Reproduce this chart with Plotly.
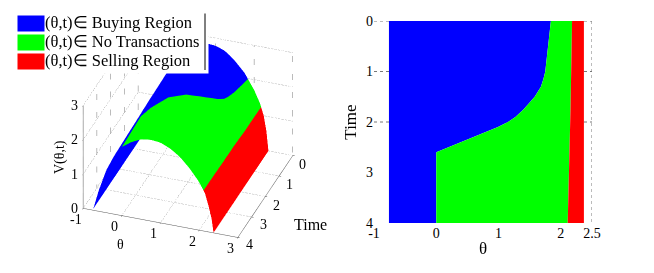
import numpy as np
import plotly.graph_objects as go

FONT = "Liberation Serif"
W, H = 646, 265  # the page adds an 8px body margin around the figure

# surface V(theta, t)
v_theta = [-0.75, -0.6, -0.4, -0.2, 0, 0.25, 0.5, 0.75, 1, 1.25, 1.5, 1.75, 2, 2.15, 2.25, 2.32, 2.37]
v_time = [0, 1, 2, 3, 4]
v_t0 = [0, 0.65, 1.35, 1.85, 2.2, 2.5, 2.7, 2.8, 2.78, 2.68, 2.45, 2.15, 1.7, 1.35, 1.0, 0.55, 0]
v_t1 = [0, 0.65, 1.33, 1.82, 2.16, 2.46, 2.67, 2.76, 2.74, 2.62, 2.4, 2.1, 1.66, 1.3, 0.95, 0.52, 0]
v_t2 = [0, 0.63, 1.3, 1.78, 2.1, 2.38, 2.57, 2.65, 2.62, 2.5, 2.28, 1.98, 1.57, 1.23, 0.88, 0.47, 0]
v_t3 = [0, 0.62, 1.27, 1.74, 2.05, 2.28, 2.44, 2.5, 2.47, 2.35, 2.15, 1.86, 1.48, 1.16, 0.8, 0.43, 0]
v_t4 = [0, 0.6, 1.25, 1.7, 2.0, 2.2, 2.33, 2.37, 2.34, 2.22, 2.03, 1.75, 1.4, 1.1, 0.72, 0.4, 0]

# region boundaries
bound_time = [0, 0.25, 0.5, 0.75, 1, 1.15, 1.3, 1.5, 1.65, 1.75, 1.9, 2, 2.1, 2.3, 2.5, 2.6, 3, 3.5, 4]
buy_edge = [1.84, 1.82, 1.8, 1.78, 1.75, 1.72, 1.68, 1.58, 1.48, 1.4, 1.27, 1.15, 0.99, 0.6, 0.22, 0, 0, 0, 0]
sell_edge = [2.18, 2.178, 2.175, 2.172, 2.17, 2.168, 2.165, 2.16, 2.157, 2.155, 2.152, 2.15, 2.15, 2.145, 2.14, 2.14,
             2.13, 2.12, 2.11]
left_edge = [-0.76] * len(bound_time)
right_edge = [2.37] * len(bound_time)

region_names = ["Buying Region", "No Transactions", "Selling Region"]
region_colors = ["#0000ff", "#00ff00", "#ff0000"]

grid_theta = [-1, 0, 1, 2, 3]
grid_time = [0, 1, 2, 3, 4]
grid_v = [0, 1, 2, 3]


def px_x(p):
    return (p - 8) / W


def px_y(p):
    return 1 - (p - 8) / H


def v_at(theta, t):
    table = np.array([v_t0, v_t1, v_t2, v_t3, v_t4])
    row = [np.interp(t, v_time, table[:, i]) for i in range(len(v_theta))]
    return np.interp(theta, v_theta, row)


def region_surface(lo, hi, color):
    xs, ys, zs = [], [], []
    for t, a, b in zip(bound_time, lo, hi):
        th = np.linspace(a, b, 30)
        xs.append(th)
        ys.append([t] * len(th))
        zs.append(v_at(th, t))
    return go.Surface(x=xs, y=ys, z=zs, surfacecolor=np.zeros_like(zs),
                      colorscale=[[0, color], [1, color]], showscale=False,
                      lighting=dict(ambient=1, diffuse=0, specular=0, fresnel=0),
                      hoverinfo="skip", showlegend=False)


def dotted(xs, ys, zs):
    return go.Scatter3d(x=xs, y=ys, z=zs, mode="lines", hoverinfo="skip", showlegend=False,
                        line=dict(color="#777777", width=1, dash="dot"))


def scene_label(x, y, z, text, dx, dy, size=14, angle=0):
    return dict(x=x, y=y, z=z, text=text, xshift=dx, yshift=dy, textangle=angle, showarrow=False,
                font=dict(family=FONT, size=size, color="black"))


fig = go.Figure()

# left panel
fig.add_trace(region_surface(left_edge, buy_edge, region_colors[0]))
fig.add_trace(region_surface(buy_edge, sell_edge, region_colors[1]))
fig.add_trace(region_surface(sell_edge, right_edge, region_colors[2]))

for g in grid_theta:
    fig.add_trace(dotted([g, g], [4, 0], [0, 0]))
    fig.add_trace(dotted([g, g], [0, 0], [0, 3]))
for g in grid_time:
    fig.add_trace(dotted([-1, 3], [g, g], [0, 0]))
    fig.add_trace(dotted([-1, -1], [g, g], [0, 3]))
for g in grid_v:
    fig.add_trace(dotted([-1, -1], [4, 0], [g, g]))
    fig.add_trace(dotted([-1, 3], [0, 0], [g, g]))

scene_annots = []
for g in grid_v:
    scene_annots.append(scene_label(-1, 4, g, str(g), -9, 0))
for g in grid_theta:
    scene_annots.append(scene_label(g, 4, 0, str(g), -7, -11))
for g in grid_time:
    scene_annots.append(scene_label(3, g, 0, str(g), 10 + 0.5 * g, -9 + 0.5 * (g - 0) * (g > 2)))
scene_annots.append(scene_label(1, 4, 0, "θ", -40, -22))
scene_annots.append(scene_label(3, 2, 0, "Time", 45, -28, 16))
scene_annots.append(scene_label(-1, 4, 1.5, "V(θ,t)", -23, 0, 14, -90))

# right panel
fig.add_trace(go.Scatter(x=left_edge, y=bound_time, mode="lines", line=dict(width=0),
                         xaxis="x", yaxis="y", showlegend=False, hoverinfo="skip"))
fig.add_trace(go.Scatter(x=buy_edge, y=bound_time, mode="lines", line=dict(width=0),
                         fill="tonextx", fillcolor=region_colors[0], showlegend=False))
fig.add_trace(go.Scatter(x=sell_edge, y=bound_time, mode="lines", line=dict(width=0),
                         fill="tonextx", fillcolor=region_colors[1], showlegend=False))
fig.add_trace(go.Scatter(x=right_edge, y=bound_time, mode="lines", line=dict(width=0),
                         fill="tonextx", fillcolor=region_colors[2], showlegend=False))

for t in [0, 1, 2]:
    fig.add_shape(type="line", x0=-1, x1=2.5, y0=t, y1=t, layer="below",
                  line=dict(color="#777777", width=1, dash="dot"))
fig.add_shape(type="line", x0=2.5, x1=2.5, y0=0, y1=4, layer="below",
              line=dict(color="#777777", width=1, dash="dot"))

# legend box, drawn over the 3D scene
annots = [dict(x=px_x(12), y=px_y(12), xref="paper", yref="paper", xanchor="left", yanchor="top",
               text=" ", width=193, height=58, bgcolor="white", showarrow=False),
          dict(x=px_x(205), y=px_y(70), xref="paper", yref="paper", text="", showarrow=True,
               ax=0, ay=-58, arrowhead=0, arrowwidth=1, arrowcolor="black", standoff=0)]
for i, (name, color) in enumerate(zip(region_names, region_colors)):
    top = 15 + i * 19
    annots.append(dict(x=px_x(17), y=px_y(top), xref="paper", yref="paper", xanchor="left", yanchor="top",
                       text=" ", width=26, height=15, bgcolor=color, showarrow=False, borderpad=0))
    annots.append(dict(x=px_x(43), y=px_y(top + 8), xref="paper", yref="paper", xanchor="left",
                       yanchor="middle", showarrow=False, text="(θ,t)∈ " + name,
                       font=dict(family=FONT, size=16.5, color="black")))

fig.update_layout(
    width=W, height=H, autosize=False,
    margin=dict(l=0, r=0, t=0, b=0, pad=0, autoexpand=False),
    paper_bgcolor="white", plot_bgcolor="white",
    font=dict(family=FONT, size=14, color="black"),
    showlegend=False,
    annotations=annots,
    scene=dict(
        domain=dict(x=[px_x(8), px_x(368)], y=[px_y(253), px_y(8)]),
        aspectmode="manual", aspectratio=dict(x=1.34, y=1.34, z=0.99),
        camera=dict(projection=dict(type="orthographic"),
                    up=dict(x=0, y=0, z=1), center=dict(x=0, y=0, z=0),
                    eye=dict(x=0.284 * 1.8, y=-0.799 * 1.8, z=0.53 * 1.8)),
        annotations=scene_annots,
        xaxis=dict(title=dict(text=""), range=[-1, 3], tickvals=grid_theta, showgrid=False,
                   showticklabels=False, showbackground=False, showline=True, linecolor="#555555",
                   zeroline=False, showspikes=False, ticks="outside", ticklen=2),
        yaxis=dict(title=dict(text=""), range=[4, 0], tickvals=grid_time, showgrid=False,
                   showticklabels=False, showbackground=False, showline=True, linecolor="#555555",
                   zeroline=False, showspikes=False, ticks="outside", ticklen=2),
        zaxis=dict(title=dict(text=""), range=[0, 3], tickvals=grid_v, showgrid=False,
                   showticklabels=False, showbackground=False, showline=True, linecolor="#555555",
                   zeroline=False, showspikes=False, ticks="outside", ticklen=2),
    ),
    xaxis=dict(domain=[px_x(374), px_x(592)], range=[-1, 2.5], tickvals=[-1, 0, 1, 2, 2.5],
               ticktext=["-1", "0", "1", "2", "2.5"], showgrid=False, zeroline=False, ticks="",
               automargin=False, title=dict(text="θ", standoff=2)),
    yaxis=dict(domain=[px_y(223), px_y(21)], range=[4, 0], tickvals=grid_time, showgrid=False,
               zeroline=False, ticks="", automargin=False, title=dict(text="Time", standoff=5)),
)

fig.write_html("out.html")
